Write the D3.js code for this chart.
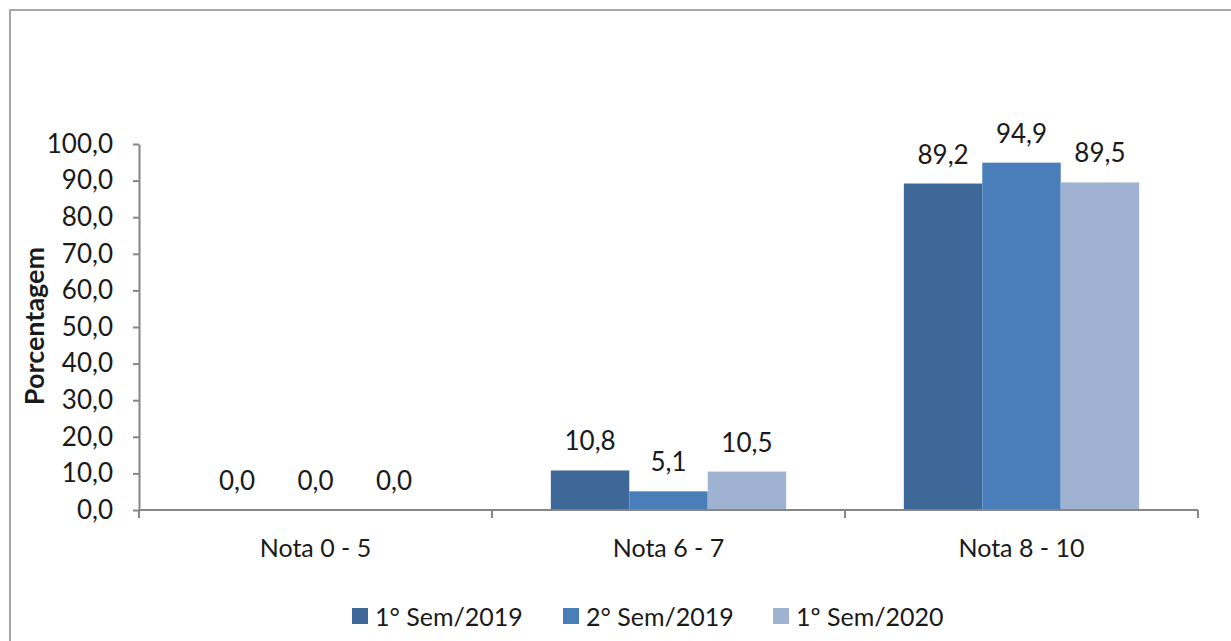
<!DOCTYPE html>
<html>
<head>
<meta charset="utf-8">
<script src="https://cdn.jsdelivr.net/npm/d3@7"></script>
<style>
  body { margin: 0; background: #fff; }
  text { font-family: Lato, "Open Sans", sans-serif; fill: #1a1a1a; }
</style>
</head>
<body>
<svg width="1231" height="641"></svg>
<script>
var categories = ["Nota 0 - 5", "Nota 6 - 7", "Nota 8 - 10"];
var seriesNames = ["1° Sem/2019", "2° Sem/2019", "1º Sem/2020"];
var sem1_2019 = [0.0, 10.8, 89.2];
var sem2_2019 = [0.0, 5.1, 94.9];
var sem1_2020 = [0.0, 10.5, 89.5];
var yTicks = [0, 10, 20, 30, 40, 50, 60, 70, 80, 90, 100];
var colors = ["#3e6898", "#4a7eba", "#9fb2d1"];

var values = [sem1_2019, sem2_2019, sem1_2020];
var fmt = function(v) { return d3.format(".1f")(v).replace(".", ","); };

var svg = d3.select("svg");

// outer frame (only top and left edges visible in picture)
svg.append("rect")
    .attr("x", 10).attr("y", 10)
    .attr("width", 1260).attr("height", 680)
    .attr("fill", "none")
    .attr("stroke", "#a6a6a6")
    .attr("stroke-width", 2);

var plotLeft = 139, plotRight = 1198, plotTop = 144, plotBottom = 510;

var x0 = d3.scaleBand().domain(categories).range([plotLeft, plotRight]);
var x1 = d3.scaleBand().domain(seriesNames).range([0, x0.bandwidth()])
    .paddingInner(0).paddingOuter(0.75);
var y = d3.scaleLinear().domain([0, 100]).range([plotBottom, plotTop]);

// bars
var groups = svg.selectAll("g.cat")
    .data(categories)
    .enter().append("g")
    .attr("class", "cat")
    .attr("transform", function(d) { return "translate(" + x0(d) + ",0)"; });

function cells(c, ci) {
  return seriesNames.map(function(s, si) { return {s: s, i: si, v: values[si][ci]}; });
}

groups.selectAll("rect")
    .data(cells)
    .enter().append("rect")
    .attr("x", function(d) { return x1(d.s); })
    .attr("y", function(d) { return y(d.v); })
    .attr("width", x1.bandwidth())
    .attr("height", function(d) { return y(0) - y(d.v); })
    .attr("fill", function(d) { return colors[d.i]; });

groups.selectAll("text.val")
    .data(cells)
    .enter().append("text")
    .attr("class", "val")
    .attr("x", function(d) { return x1(d.s) + x1.bandwidth() / 2; })
    .attr("y", function(d) { return y(d.v) - 20; })
    .attr("text-anchor", "middle")
    .style("font-size", "26px")
    .text(function(d) { return fmt(d.v); });

// y axis
var yAxis = svg.append("g")
    .attr("transform", "translate(" + plotLeft + ",0)")
    .call(d3.axisLeft(y).tickValues(yTicks).tickFormat(fmt)
      .tickSize(6).tickSizeOuter(0).tickPadding(20));
yAxis.select(".domain").attr("stroke", "#868686").attr("stroke-width", 2);
yAxis.selectAll(".tick line").attr("stroke", "#868686").attr("stroke-width", 2);
yAxis.selectAll(".tick text")
    .style("font-size", "26px")
    .style("font-family", "Lato, 'Open Sans', sans-serif")
    .attr("fill", "#1a1a1a");

// x axis
svg.append("line")
    .attr("x1", plotLeft).attr("x2", plotRight)
    .attr("y1", y(0)).attr("y2", y(0))
    .attr("stroke", "#868686").attr("stroke-width", 2);

var bounds = categories.map(function(c) { return x0(c); }).concat([plotRight]);
svg.selectAll("line.xtick")
    .data(bounds)
    .enter().append("line")
    .attr("class", "xtick")
    .attr("x1", function(d) { return d; }).attr("x2", function(d) { return d; })
    .attr("y1", y(0)).attr("y2", y(0) + 8)
    .attr("stroke", "#868686").attr("stroke-width", 2);

svg.selectAll("text.catlabel")
    .data(categories)
    .enter().append("text")
    .attr("class", "catlabel")
    .attr("x", function(d) { return x0(d) + x0.bandwidth() / 2; })
    .attr("y", 557)
    .attr("text-anchor", "middle")
    .style("font-size", "25px")
    .text(function(d) { return d; });

// y title
svg.append("text")
    .attr("transform", "translate(44,326) rotate(-90)")
    .attr("text-anchor", "middle")
    .style("font-size", "27px")
    .style("font-weight", "bold")
    .text("Porcentagem");

// legend
var legendX = [352, 563, 773];
var legend = svg.selectAll("g.legend")
    .data(seriesNames)
    .enter().append("g")
    .attr("class", "legend")
    .attr("transform", function(d, i) { return "translate(" + legendX[i] + ",608)"; });

legend.append("rect")
    .attr("width", 16).attr("height", 16)
    .attr("fill", function(d, i) { return colors[i]; });

legend.append("text")
    .attr("x", 23).attr("y", 8)
    .attr("dominant-baseline", "central")
    .style("font-size", "25px")
    .text(function(d) { return d; });
</script>
</body>
</html>
